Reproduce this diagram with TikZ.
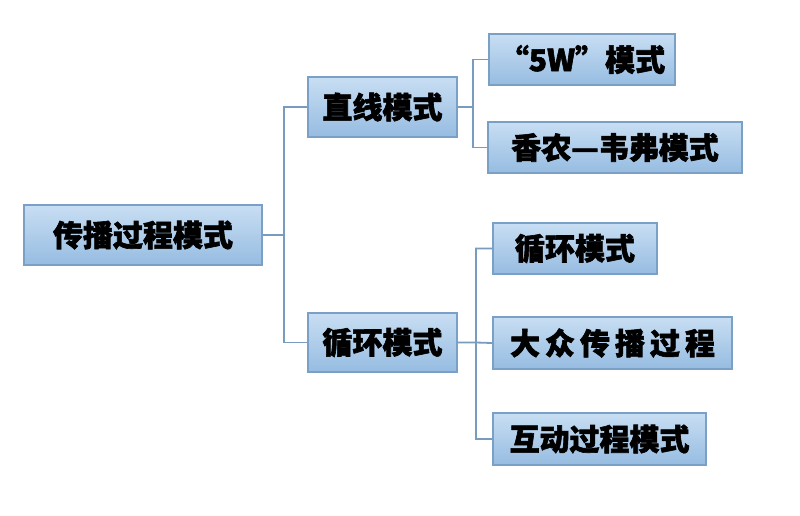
\documentclass[tikz,border=0pt]{standalone}
\usepackage{fontspec}
\usepackage{tikz}
\newfontfamily\cjk{Noto Sans CJK SC}[BoldFeatures={FakeBold=2}]
\definecolor{boxline}{RGB}{122,160,198}
\definecolor{boxtop}{RGB}{200,222,243}
\definecolor{boxbot}{RGB}{150,188,225}
\definecolor{linkcol}{RGB}{120,156,190}
\tikzstyle{modebox}=[rectangle,draw=boxline,line width=1.8pt,
                     top color=boxtop,bottom color=boxbot,
                     inner sep=0pt,
                     font=\cjk\bfseries\fontsize{30}{35}\selectfont]
\tikzstyle{link}=[draw=linkcol,line width=1.8pt]

\begin{document}
\begin{tikzpicture}[x=1pt,y=-1pt]
    \useasboundingbox (0,0) rectangle (800,515);
    \node (root) at (143,235) [modebox,minimum width=238pt,minimum height=60pt]{传播过程模式};
    \node (line) at (382.5,107) [modebox,minimum width=149pt,minimum height=60pt]{直线模式};
    \node (cyc) at (382.5,342.5) [modebox,minimum width=149pt,minimum height=59pt]{循环模式};
    \node (fivew) at (582,59.5) [modebox,minimum width=186pt,minimum height=51pt]{“5W”模式};
    \node (shannon) at (615,147.5) [modebox,minimum width=254pt,minimum height=51pt]{香农—韦弗模式};
    \node (loop) at (575,248.5) [modebox,minimum width=164pt,minimum height=51pt]{循环模式};
    \node (mass) at (612.5,343) [modebox,minimum width=239pt,minimum height=52pt]{大\,众\,传\,播\,过\,程};
    \node (inter) at (599.5,439) [modebox,minimum width=213pt,minimum height=52pt]{互动过程模式};
    \coordinate (t1) at (284,235);
    \coordinate (t2) at (473,107);
    \coordinate (t3) at (476,342.5);
    \draw[link] (root) -- (t1) (t1) |- (line.west) (t1) |- (cyc.west);
    \draw[link] (line) -- (t2) (t2) |- (fivew.west) (t2) |- (shannon.west);
    \draw[link] (cyc) -- (t3) (t3) |- (loop.west) (t3) |- (inter.west) (t3) -- (mass.west);
  \end{tikzpicture}
\end{document}
